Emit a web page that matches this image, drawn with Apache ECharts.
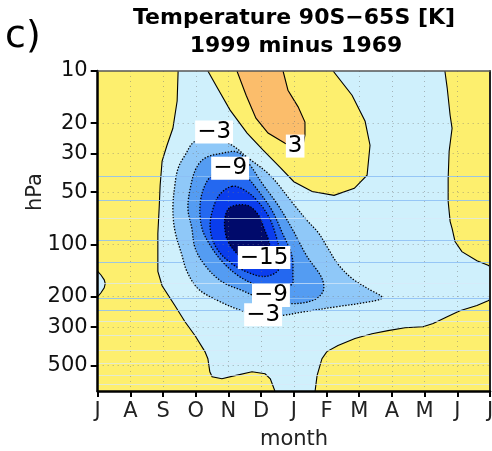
<!DOCTYPE html>
<html>
<head>
<meta charset="utf-8">
<script src="https://cdn.jsdelivr.net/npm/echarts@6/dist/echarts.min.js"></script>
<style>
  html, body { margin: 0; padding: 0; background: #fff; }
  #chart { width: 492px; height: 451px; }
</style>
</head>
<body>
<div id="chart"></div>
<script>
// Axis labels
const monthLabels = ['J', 'A', 'S', 'O', 'N', 'D', 'J', 'F', 'M', 'A', 'M', 'J', 'J'];
const pressureTicks = [10, 20, 30, 50, 100, 200, 300, 500];
const pressureMin = 10;
const pressureMax = 700;

// Model level lines (hPa)
const levelLinesStrong = [40.4, 55.7, 94.8, 127, 203, 241];
const levelLinesFaint = [70.7, 168, 279, 336, 410, 487, 571, 636];

// Contour lines, points are [month index from July, pressure hPa]
const contourZeroLeft = [[2.46,10],[2.43,14.9],[2.30,21.4],[2.12,26.8],[1.97,33.1],[1.91,45.6],[1.88,61.9],[1.84,86.4],[1.84,143],[1.97,173],[2.36,225],[2.67,279],[2.98,336],[3.28,415],[3.37,456],[3.43,542],[3.50,579],[3.80,595],[4.20,571],[4.72,542],[5.12,557],[5.28,595],[5.36,653],[5.42,700]];
const contourZeroBump = [[0,143],[0.1,150],[0.2,160],[0.23,168],[0.2,178],[0.1,190],[0,200]];
const contourZeroTop = [[3.37,10],[3.65,12.4],[4.05,16.8],[4.57,22.8],[5.06,28.6],[5.58,35.9],[6.0,43.5],[6.56,49.5],[7.23,52.1],[7.85,47.5],[8.24,39.9],[8.33,26.8],[8.18,19.5],[7.78,13.8],[7.20,10]];
const contourZeroRight = [[10.62,10],[10.69,12.5],[10.78,18.0],[10.84,21.4],[10.75,29.0],[10.72,41.5],[10.72,56.4],[10.78,73.6],[10.84,80.8],[10.93,96.1],[11.14,110],[11.6,124],[11.94,132],[12,134]];
const contourZeroBottom = [[6.65,700],[6.71,571],[6.86,456],[7.01,415],[7.35,383],[7.87,349],[8.39,327],[8.88,314],[9.40,302],[9.95,298],[10.26,286],[10.69,261],[11.08,241],[11.6,225],[11.94,211],[12,208]];
const contourPlus3 = [[4.26,10],[4.54,13.8],[4.84,18.7],[5.21,22.8],[5.73,26.1],[6.07,27.9],[6.28,26.8],[6.34,23.4],[6.34,19.7],[6.13,16.1],[5.82,12.9],[5.67,10]];
const contourMinus3 = [[4.11,26.8],[3.59,24.7],[2.98,25.4],[2.67,30.6],[2.46,36.4],[2.36,45.6],[2.30,61.9],[2.36,83.0],[2.58,116],[2.73,143],[3.07,180],[3.68,211],[4.41,241],[5.12,261],[5.64,257],[6.34,244],[7.35,228],[8.18,216],[8.70,203],[8.27,180],[7.78,157],[7.35,130],[7.04,105],[6.74,85.2],[6.40,72.6],[5.97,57.9],[5.27,39.9],[4.57,31.4]];
const contourMinus6 = [[4.29,29.4],[3.80,29.8],[3.28,31.8],[3.01,36.4],[2.85,45.6],[2.76,61.9],[2.88,80.8],[2.98,105],[3.28,132],[3.80,164],[4.41,184],[4.96,203],[5.82,219],[6.56,211],[6.89,187],[6.86,157],[6.40,117],[5.94,80.8],[5.52,59.5],[5.03,44.4],[4.66,34.9]];
const contourMinus9 = [[4.11,35.4],[3.59,38.4],[3.28,45.6],[3.13,59.5],[3.19,80.8],[3.44,101],[3.80,125],[4.29,151],[4.81,170],[5.42,180],[5.94,170],[5.97,151],[5.94,116],[5.64,85.2],[5.33,63.6],[4.90,48.7],[4.51,39.9]];
const contourMinus12 = [[4.11,46.2],[3.74,51.4],[3.53,61.9],[3.44,80.8],[3.62,104],[4.05,127],[4.60,145],[5.12,153],[5.52,141],[5.58,116],[5.45,88.7],[5.21,68.0],[4.81,54.2],[4.45,48.1]];
const contourMinus15 = [[4.05,61.1],[4.57,59.5],[4.90,67.1],[5.09,80.8],[5.27,104],[5.15,127],[4.72,130],[4.35,117],[4.05,101],[3.92,88.7],[3.89,70.7]];

// Contour labels: [month index, hPa, text]
const contourLabels = [[3.56,22.5,'−3'],[4.05,36.4,'−9'],[5.09,119,'−15'],[5.30,197,'−9'],[5.06,254,'−3'],[6.04,27.1,'3']];

const COLORS = {
  bg: '#cff0fc', yellow: '#fdef6e', orange: '#fbbd6b',
  m3: '#8fc8f8', m6: '#549cf2', m9: '#2468f0', m12: '#0a3ded', m15: '#000a6b'
};

// Each shape: contour points, extra corner points closing the fill along the frame,
// fill colour, and whether the contour is dotted (negative) or solid.
const shapes = [
  { pts: contourZeroLeft, corners: [[0, pressureMax], [0, pressureMin]], fill: COLORS.yellow, dotted: false },
  { pts: contourZeroTop, corners: [], fill: COLORS.yellow, dotted: false },
  { pts: contourZeroRight, corners: [[12, pressureMin]], fill: COLORS.yellow, dotted: false },
  { pts: contourZeroBottom, corners: [[12, pressureMax]], fill: COLORS.yellow, dotted: false },
  { pts: contourZeroBump, corners: [], fill: COLORS.bg, dotted: false },
  { pts: contourPlus3, corners: [], fill: COLORS.orange, dotted: false },
  { pts: contourMinus3, corners: [], fill: COLORS.m3, dotted: true, closed: true },
  { pts: contourMinus6, corners: [], fill: COLORS.m6, dotted: true, closed: true },
  { pts: contourMinus9, corners: [], fill: COLORS.m9, dotted: true, closed: true },
  { pts: contourMinus12, corners: [], fill: COLORS.m12, dotted: true, closed: true },
  { pts: contourMinus15, corners: [], fill: COLORS.m15, dotted: true, closed: true }
];

const FONT = '"DejaVu Sans", sans-serif';
const chart = echarts.init(document.getElementById('chart'), null, { renderer: 'canvas' });

const hLines = [];
levelLinesStrong.forEach(v => hLines.push({ yAxis: v, lineStyle: { color: 'rgba(140,190,245,0.85)', width: 1, type: 'solid' } }));
levelLinesFaint.forEach(v => hLines.push({ yAxis: v, lineStyle: { color: 'rgba(215,232,250,0.7)', width: 1, type: 'solid' } }));
pressureTicks.slice(1).forEach(v => hLines.push({ yAxis: v, lineStyle: { color: 'rgba(120,120,120,0.55)', width: 1, type: [1, 4] } }));

const option = {
  animation: false,
  backgroundColor: '#fff',
  grid: {
    left: 97.7, right: 2, top: 71, bottom: 60,
    show: true, backgroundColor: COLORS.bg, borderWidth: 0,
    outerBoundsMode: 'none', containLabel: false
  },
  xAxis: [{
    type: 'value', min: 0, max: 12, interval: 1, z: 10,
    axisLine: { show: true, onZero: false, lineStyle: { color: '#000', width: 2.5 } },
    axisTick: { show: true, length: 6, lineStyle: { color: '#000', width: 2 } },
    axisLabel: {
      show: true, margin: 10, color: '#222', fontSize: 21, fontFamily: FONT,
      showMinLabel: true, showMaxLabel: true, hideOverlap: false,
      formatter: v => monthLabels[Math.round(v)]
    },
    splitLine: { show: true, lineStyle: { color: 'rgba(120,120,120,0.5)', width: 1, type: [1, 4] } }
  }, {
    type: 'value', min: 0, max: 12, position: 'top', z: 10,
    axisLine: { show: true, onZero: false, lineStyle: { color: '#555', width: 1.5 } },
    axisTick: { show: false }, axisLabel: { show: false }, splitLine: { show: false }
  }],
  yAxis: [{
    type: 'log', logBase: 10, min: pressureMin, max: pressureMax, inverse: true, z: 10,
    axisLine: { show: true, onZero: false, lineStyle: { color: '#000', width: 2.5 } },
    axisTick: { show: true, length: 7, customValues: pressureTicks, lineStyle: { color: '#000', width: 2 } },
    axisLabel: {
      show: true, margin: 10, color: '#111', fontSize: 21, fontFamily: FONT,
      customValues: pressureTicks, formatter: v => String(Math.round(v))
    },
    splitLine: { show: false },
    minorTick: { show: false }
  }, {
    type: 'value', min: 0, max: 1, position: 'right', z: 10,
    axisLine: { show: true, onZero: false, lineStyle: { color: '#222', width: 2 } },
    axisTick: { show: false }, axisLabel: { show: false }, splitLine: { show: false }
  }],
  series: [{
    type: 'custom',
    coordinateSystem: 'cartesian2d',
    xAxisIndex: 0, yAxisIndex: 0,
    clip: true, z: 2, silent: true,
    data: shapes.map(s => s.pts[0]),
    encode: { x: 0, y: 1 },
    renderItem: function (params, api) {
      const s = shapes[params.dataIndex];
      const line = s.pts.map(p => api.coord(p));
      const poly = line.concat(s.corners.map(p => api.coord(p)));
      const smooth = s.closed ? 0.35 : 0;
      const stroke = {
        stroke: '#000',
        lineWidth: s.dotted ? 1.3 : 1.1,
        lineDash: s.dotted ? [1.4, 1.6] : null,
        fill: null
      };
      return {
        type: 'group',
        children: [
          { type: 'polygon', shape: { points: poly, smooth: smooth }, style: { fill: s.fill, stroke: null } },
          s.closed
            ? { type: 'polygon', shape: { points: line, smooth: smooth }, style: stroke }
            : { type: 'polyline', shape: { points: line }, style: stroke }
        ]
      };
    }
  }, {
    type: 'line',
    data: [],
    silent: true,
    z: 6,
    markLine: { silent: true, symbol: 'none', label: { show: false }, animation: false, data: hLines }
  }, {
    type: 'scatter',
    silent: true,
    z: 20,
    symbolSize: 0,
    itemStyle: { opacity: 1 },
    data: contourLabels,
    label: {
      show: true, position: 'inside', formatter: p => p.value[2],
      color: '#000', opacity: 1, fontSize: 23, fontFamily: FONT,
      backgroundColor: '#ffffff', padding: [0, 2, 0, 2]
    }
  }],
  graphic: [
    { type: 'text', x: 5, y: 37, style: { text: 'c)', font: '38px ' + FONT, fill: '#000', textVerticalAlign: 'middle' } },
    { type: 'text', x: 294, y: 18, style: { text: 'Temperature 90S−65S [K]', font: 'bold 22px ' + FONT, fill: '#000', textAlign: 'center', textVerticalAlign: 'middle' } },
    { type: 'text', x: 296, y: 46, style: { text: '1999 minus 1969', font: 'bold 22px ' + FONT, fill: '#000', textAlign: 'center', textVerticalAlign: 'middle' } },
    { type: 'text', x: 36, y: 192, rotation: Math.PI / 2, style: { text: 'hPa', font: '21px ' + FONT, fill: '#222', textAlign: 'center', textVerticalAlign: 'middle' } },
    { type: 'text', x: 294, y: 440, style: { text: 'month', font: '21px ' + FONT, fill: '#222', textAlign: 'center', textVerticalAlign: 'middle' } }
  ]
};
chart.setOption(option);
</script>
</body>
</html>
